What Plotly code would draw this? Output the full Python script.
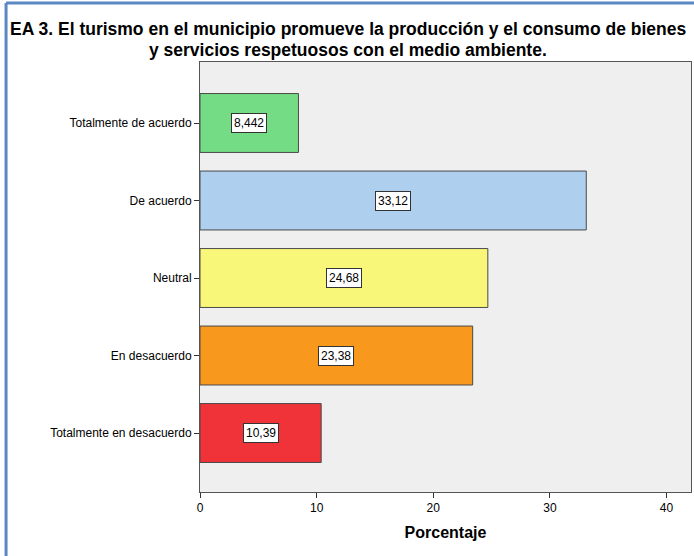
import plotly.graph_objects as go

categories = ["Totalmente de acuerdo", "De acuerdo", "Neutral", "En desacuerdo", "Totalmente en desacuerdo"]
values = [8.442, 33.12, 24.68, 23.38, 10.39]
value_labels = ["8,442", "33,12", "24,68", "23,38", "10,39"]
colors = ["#74dc84", "#aecfed", "#f9f779", "#f8981d", "#ef3339"]
x_ticks = [0, 10, 20, 30, 40]
title_lines = [
    "EA 3. El turismo en el municipio promueve la producción y el consumo de bienes",
    "y servicios respetuosos con el medio ambiente.",
]

FONT = "Liberation Sans, Arial"

fig = go.Figure()
fig.add_trace(go.Bar(
    x=values, y=categories, orientation="h",
    marker=dict(color=colors, line=dict(color="#4a4a4a", width=1)),
    width=0.76, hoverinfo="skip",
))

for c, v, t in zip(categories, values, value_labels):
    fig.add_annotation(
        x=v / 2, y=c, text=t, showarrow=False,
        bgcolor="white", bordercolor="#333333", borderwidth=1, borderpad=2,
        font=dict(family=FONT, size=12, color="black"),
    )

# title (two lines, tight spacing)
for line, ypos in zip(title_lines, [1.0775, 1.0285]):
    fig.add_annotation(
        xref="paper", yref="paper", x=0.302, y=ypos, xanchor="center", yanchor="middle",
        text=line, showarrow=False,
        font=dict(family=FONT, size=17.5, color="black", weight="bold"),
    )

# outer blue frame (top and left)
fig.add_shape(type="line", xref="paper", yref="paper", x0=-0.395, x1=1.02, y0=1.137, y1=1.137,
              line=dict(color="#5b87c5", width=3))
fig.add_shape(type="line", xref="paper", yref="paper", x0=-0.395, x1=-0.395, y0=1.137, y1=-0.2,
              line=dict(color="#5b87c5", width=3))

fig.update_layout(
    width=694, height=556,
    margin=dict(l=200, r=3, t=62, b=64),
    paper_bgcolor="white", plot_bgcolor="#efefef",
    showlegend=False,
    font=dict(family=FONT, size=12, color="black"),
    xaxis=dict(
        range=[0, 42.1], tickvals=x_ticks, ticks="outside", ticklen=5, tickcolor="#333",
        showgrid=False, zeroline=False, showline=True, linecolor="#555", linewidth=1, mirror=True,
        title=dict(text="<b>Porcentaje</b>", font=dict(size=16), standoff=12),
        tickfont=dict(size=12),
    ),
    yaxis=dict(
        categoryorder="array", categoryarray=categories,
        range=[4.761, -0.787], ticks="outside", ticklen=5, tickcolor="#333",
        showgrid=False, zeroline=False, showline=True, linecolor="#555", linewidth=1, mirror=True,
        tickfont=dict(size=12),
    ),
)

fig.write_html(
    "out.html",
    config={"displayModeBar": False},
    post_script="document.body.style.margin='0';document.body.style.overflow='hidden';",
)
